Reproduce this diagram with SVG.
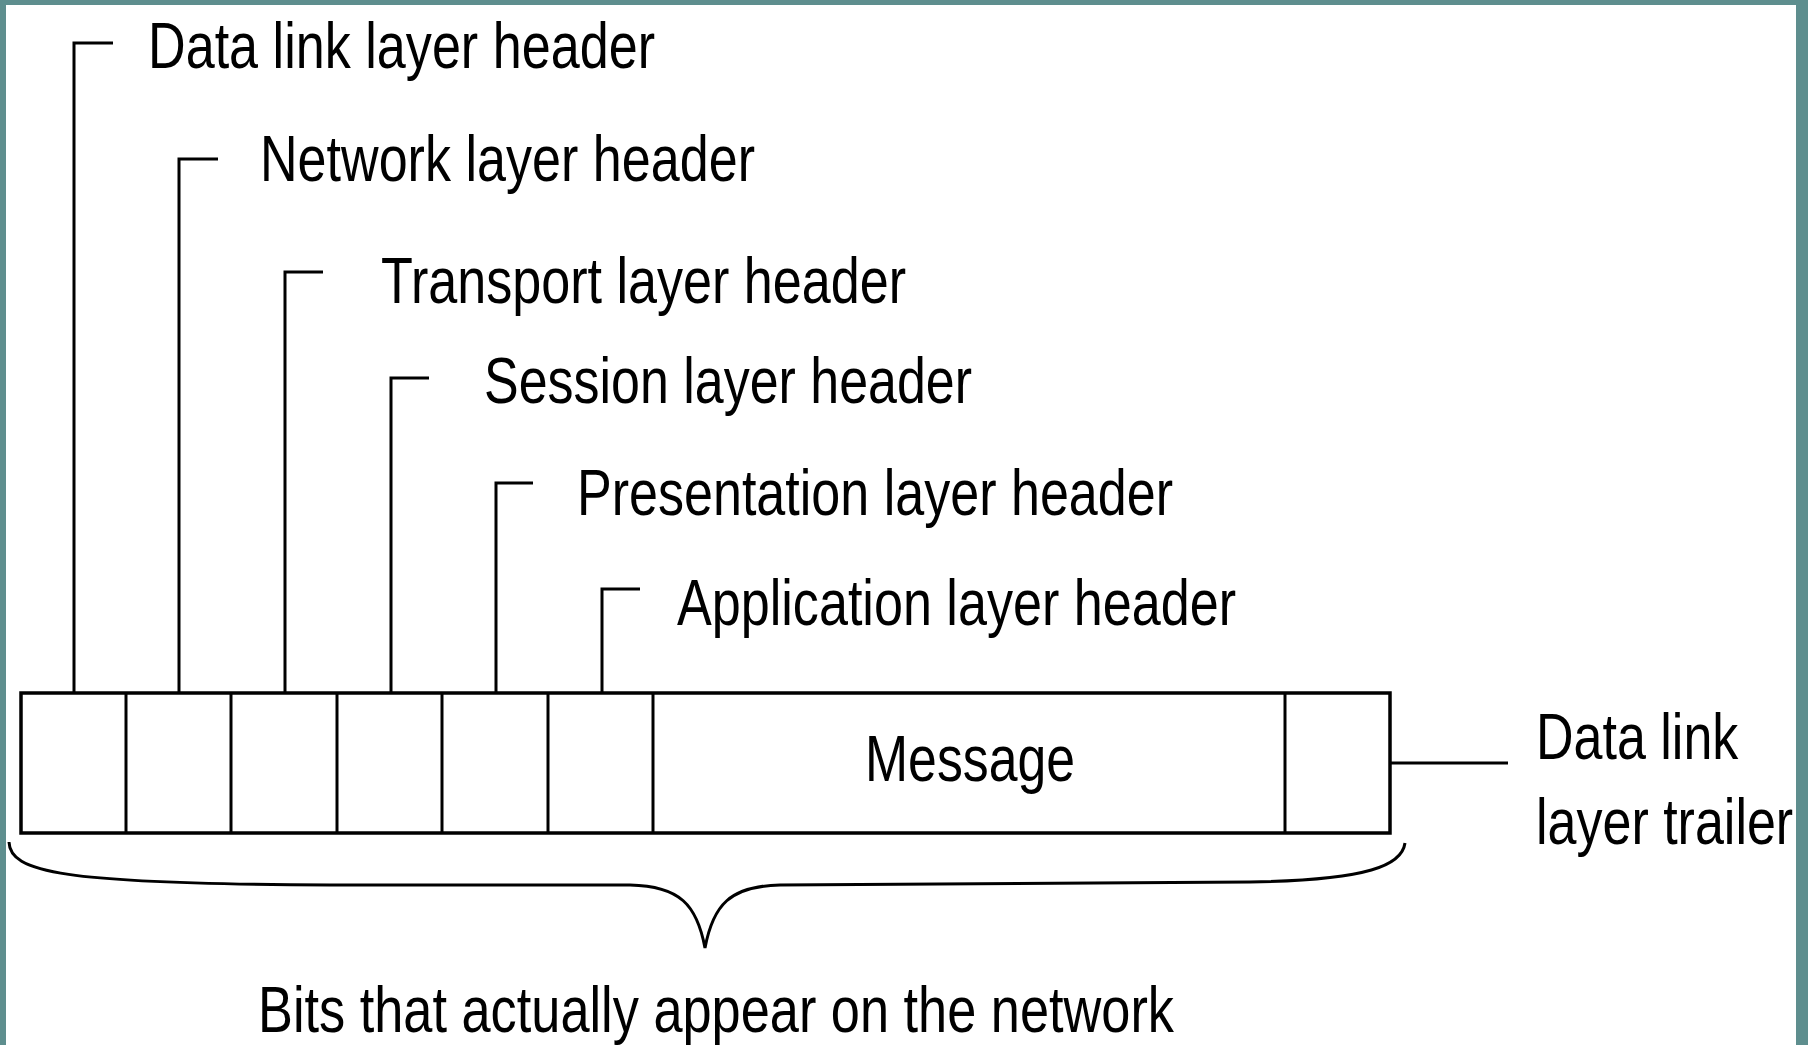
<svg xmlns="http://www.w3.org/2000/svg" width="1808" height="1045" viewBox="0 0 1808 1045">
<style>
.lbl{font-family:"Liberation Sans",Arial,sans-serif;font-size:65px;fill:#000;}
.lbs{font-family:"Liberation Sans",Arial,sans-serif;font-size:52px;fill:#000;}
.ln{stroke:#000;stroke-width:3;fill:none;}
.box{stroke:#000;stroke-width:3.5;fill:#fff;}
.brace{stroke:#000;stroke-width:3;fill:none;}
</style>
<rect x="0" y="0" width="1808" height="1045" fill="#fff"/>
<g id="connectors">
<path class="ln" d="M74,693 V43 H113"/>
<path class="ln" d="M179,693 V159 H218"/>
<path class="ln" d="M285,693 V272 H323"/>
<path class="ln" d="M391,693 V378 H429"/>
<path class="ln" d="M496,693 V483 H533"/>
<path class="ln" d="M602,693 V589 H640"/>
<path class="ln" d="M1390,763 H1508"/>
</g>
<g id="frame">
<rect class="box" x="21" y="693" width="1369" height="140"/>
<line class="ln" x1="126" y1="693" x2="126" y2="833"/>
<line class="ln" x1="231" y1="693" x2="231" y2="833"/>
<line class="ln" x1="337" y1="693" x2="337" y2="833"/>
<line class="ln" x1="442" y1="693" x2="442" y2="833"/>
<line class="ln" x1="548" y1="693" x2="548" y2="833"/>
<line class="ln" x1="653" y1="693" x2="653" y2="833"/>
<line class="ln" x1="1285" y1="693" x2="1285" y2="833"/>
</g>
<g id="message"><text class="lbl" x="865" y="781" textLength="210" lengthAdjust="spacingAndGlyphs">Message</text></g>
<g id="dl-header"><text class="lbl" x="148" y="68" textLength="507" lengthAdjust="spacingAndGlyphs">Data link layer header</text></g>
<g id="net-header"><text class="lbl" x="260" y="181" textLength="495" lengthAdjust="spacingAndGlyphs">Network layer header</text></g>
<g id="trans-header"><text class="lbl" x="381" y="303" textLength="525" lengthAdjust="spacingAndGlyphs">Transport layer header</text></g>
<g id="sess-header"><text class="lbl" x="484" y="403" textLength="488" lengthAdjust="spacingAndGlyphs">Session layer header</text></g>
<g id="pres-header"><text class="lbl" x="577" y="515" textLength="596" lengthAdjust="spacingAndGlyphs">Presentation layer header</text></g>
<g id="app-header"><text class="lbl" x="677" y="625" textLength="559" lengthAdjust="spacingAndGlyphs">Application layer header</text></g>
<g id="dl-trailer">
<text class="lbs" transform="translate(1536,759) scale(1,1.25)" x="0" y="0">Data link</text>
<text class="lbs" transform="translate(1536,844) scale(1,1.25)" x="0" y="0">layer trailer</text>
</g>
<g id="brace">
<path class="brace" d="M9,842 C10,872 60,884 330,885 L630,885 C680,886 697,905 705,948 C713,905 730,886 780,885 L1250,882 C1370,880 1402,865 1405,843"/>
</g>
<g id="bits"><text class="lbl" x="258" y="1032" textLength="916" lengthAdjust="spacingAndGlyphs">Bits that actually appear on the network</text></g>
<g id="border" fill="#5e8e8e">
<rect x="0" y="0" width="1808" height="5"/>
<rect x="0" y="0" width="6" height="1045"/>
<rect x="1796" y="0" width="12" height="1045"/>
</g>
</svg>
